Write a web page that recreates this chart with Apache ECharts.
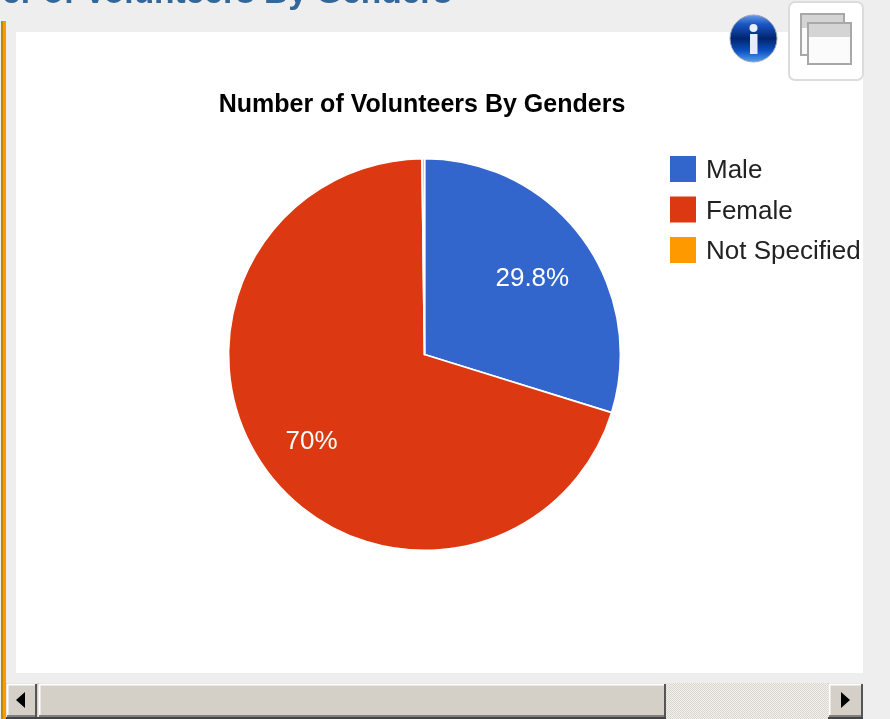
<!DOCTYPE html>
<html>
<head>
<meta charset="utf-8">
<style>html,body{margin:0;padding:0;background:#eeeeee}#c{width:890px;height:719px}</style>
<script src="https://cdn.jsdelivr.net/npm/echarts@6/dist/echarts.min.js"></script>
</head>
<body>
<div id="c"></div>
<script>
const categories = ['Male', 'Female', 'Not Specified'];
const values = [29.8, 70, 0.2];
const colors = ['#3366cc', '#dc3912', '#ff9900'];
const labelOffsets = [[26.5, -16], [-32, 27], [0, 0]];
const FONT = '"Liberation Sans", Arial, sans-serif';
const chart = echarts.init(document.getElementById('c'), null, {renderer: 'canvas'});
const rect = (x, y, w, h, fill, extra) => Object.assign({type: 'rect', shape: {x, y, width: w, height: h}, style: {fill}, silent: true}, extra || {});
const line = (x1, y1, x2, y2, stroke, lineWidth) => ({type: 'line', shape: {x1, y1, x2, y2}, style: {stroke, lineWidth: lineWidth || 1}, silent: true});
const tri = (pts) => ({type: 'polygon', shape: {points: pts}, style: {fill: '#000'}, silent: true});
const win = (x, y, w, h, bar) => [
  rect(x, y, w, h, '#fbfbfb', {style: {fill: '#fbfbfb', stroke: '#a8a8a8', lineWidth: 2}}),
  rect(x + 1, y + 1, w - 2, bar, '#d4d4d4')
];
const bevelButton = (x, y, w, h) => [
  rect(x, y, w, h, '#d4d0c8'),
  line(x, y + 0.5, x + w, y + 0.5, '#ffffff', 2),
  line(x + 0.5, y, x + 0.5, y + h, '#ffffff', 2),
  line(x, y + h - 1, x + w, y + h - 1, '#808080', 2),
  line(x + w - 1, y, x + w - 1, y + h, '#555555', 2)
];
const dither = document.createElement('canvas');
dither.width = dither.height = 2;
const dctx = dither.getContext('2d');
dctx.fillStyle = '#f2f1ee';
dctx.fillRect(0, 0, 2, 2);
dctx.fillStyle = '#d9d6cf';
dctx.fillRect(0, 0, 1, 1);
dctx.fillRect(1, 1, 1, 1);
chart.setOption({
  animation: false,
  backgroundColor: '#eeeeee',
  title: {
    text: 'Number of Volunteers By Genders',
    left: 417, top: 88, textAlign: 'center',
    textStyle: {fontFamily: FONT, fontSize: 25, fontWeight: 'bold', color: '#000'}
  },
  legend: {
    data: categories, orient: 'vertical', left: 670, top: 154,
    icon: 'rect', itemWidth: 26, itemHeight: 26, itemGap: 10.5,
    selectedMode: false, padding: 0,
    itemStyle: {borderWidth: 0},
    formatter: '{t|{name}}',
    textStyle: {
      fontFamily: FONT, fontSize: 26, color: '#222', padding: [0, 0, 0, 5],
      rich: {t: {fontFamily: FONT, fontSize: 26, color: '#222', height: 26, lineHeight: 22, padding: [4, 0, 0, 0]}}
    }
  },
  graphic: {elements: [
    rect(16, 32, 847, 641, '#ffffff'),
    rect(1, 21, 2, 698, '#c98500'),
    rect(3, 21, 3, 698, '#ff9900'),
    {type: 'text', style: {text: 'Number of Volunteers By Genders', x: 452, y: -23, align: 'right', font: 'bold 33.5px ' + FONT, fill: '#336699'}, silent: true},
    {type: 'rect', shape: {x: 789, y: 2, width: 74, height: 78, r: 6}, style: {fill: '#ffffff', stroke: '#dcdcdc', lineWidth: 2}, silent: true},
    ...win(801, 14, 43, 41, 13),
    ...win(808, 23, 43, 41, 13),
    {type: 'circle', shape: {cx: 753.5, cy: 38.5, r: 23.5}, style: {fill: {type: 'linear', x: 0, y: 0, x2: 0, y2: 1, colorStops: [{offset: 0, color: '#6f9fe8'}, {offset: 0.2, color: '#1a56c4'}, {offset: 0.5, color: '#02246e'}, {offset: 0.75, color: '#0b4fc0'}, {offset: 1, color: '#5aa2f2'}]}, stroke: '#9aa5b8', lineWidth: 1}, silent: true},
    {type: 'circle', shape: {cx: 753.5, cy: 28, r: 4}, style: {fill: '#e8f0fc'}, silent: true},
    rect(750, 34, 7.5, 20, '#e6edf8'),
    rect(6, 683, 857, 36, '#d4d0c8'),
    rect(666, 683, 162, 36, {image: dither, repeat: 'repeat'}),
    ...bevelButton(7, 684, 30, 33),
    ...bevelButton(39, 684, 627, 33),
    ...bevelButton(829, 684, 34, 33),
    line(6, 718, 666, 718, '#444444', 2),
    line(828, 718, 863, 718, '#444444', 2),
    tri([[16, 700], [25, 692], [25, 708]]),
    tri([[841, 692], [850, 700], [841, 708]])
  ]},
  series: [{
    type: 'pie',
    center: [424.5, 354.5],
    radius: [0, 196],
    startAngle: 90,
    clockwise: true,
    avoidLabelOverlap: false,
    silent: true,
    itemStyle: {borderColor: '#ffffff', borderWidth: 1.8},
    labelLine: {show: false},
    data: categories.map((name, i) => ({
      name,
      value: values[i],
      itemStyle: {color: colors[i]},
      label: {
        show: i < 2,
        position: 'inside',
        offset: labelOffsets[i],
        formatter: '{c}%',
        fontFamily: FONT,
        fontSize: 26,
        color: '#ffffff'
      }
    }))
  }]
});
</script>
</body>
</html>
